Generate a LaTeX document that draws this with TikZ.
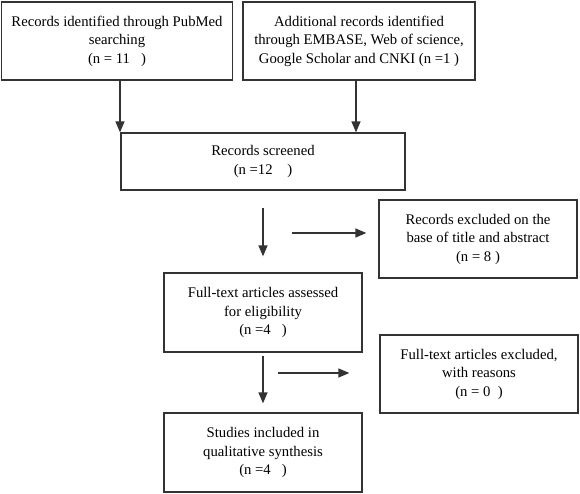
\documentclass[tikz,border=0pt]{standalone}
\usepackage{fontspec}
\setmainfont{Liberation Serif}
\usetikzlibrary{arrows.meta}
\definecolor{edge}{HTML}{333333}
\tikzset{
  x=1pt, y=-1pt,
  box/.style={draw=edge, line width=1.3pt, align=center, inner sep=2pt,
    font=\rmfamily\fontsize{14.7}{18.5}\selectfont, text=black},
  arr/.style={draw=edge, line width=1.3pt, -{Triangle[length=11pt,width=9pt]}},
}
\begin{document}
\begin{tikzpicture}
\useasboundingbox (0,0) rectangle (580,493);
\node[box, minimum width=231pt, minimum height=78pt] (b1) at (117,41)
  {Records identified through PubMed\\searching\\(n = 11\ \ \ )};
\node[box, minimum width=232pt, minimum height=78pt] (b2) at (359,41)
  {Additional records identified\\through EMBASE, Web of science,\\Google Scholar and CNKI (n =1 )};
\node[box, minimum width=284pt, minimum height=57pt] (b3) at (263,161.5)
  {Records screened\\(n =12\ \ \ \ )};
\node[box, minimum width=198pt, minimum height=78pt] (b4) at (478,239)
  {Records excluded on the\\base of title and abstract\\(n = 8 )};
\node[box, minimum width=198pt, minimum height=79pt] (b5) at (263,312.5)
  {Full-text articles assessed\\for eligibility\\(n =4\ \ \ )};
\node[box, minimum width=198pt, minimum height=78pt] (b6) at (479,374)
  {Full-text articles excluded,\\with reasons\\(n = 0\ \ )};
\node[box, minimum width=198pt, minimum height=79pt] (b7) at (263,452.5)
  {Studies included in\\qualitative synthesis\\(n =4\ \ \ )};
\coordinate (a1) at (120,80);
\coordinate (a2) at (356,80);
\draw[arr] (a1) -- (a1 |- b3.north);
\draw[arr] (a2) -- (a2 |- b3.north);
\draw[arr, shorten <=17pt, shorten >=16pt] (b3.south) -- (b5.north);
\coordinate (h1) at (292,233);
\draw[arr, shorten >=12pt] (h1) -- (h1 -| b4.west);
\draw[arr, shorten <=3pt, shorten >=9pt] (b5.south) -- (b7.north);
\coordinate (h2) at (278,373);
\draw[arr, shorten >=30pt] (h2) -- (h2 -| b6.west);
\end{tikzpicture}
\end{document}
